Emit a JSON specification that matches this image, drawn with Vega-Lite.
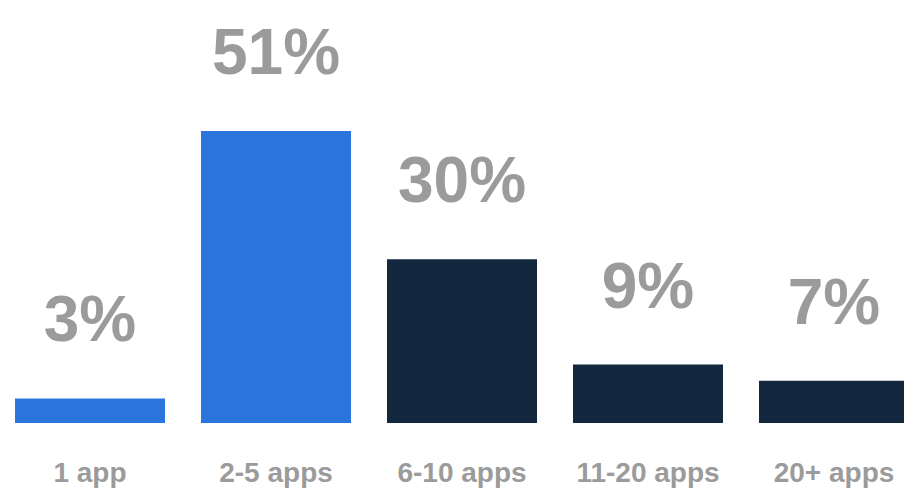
{
  "$schema": "https://vega.github.io/schema/vega-lite/v6.json",
  "width": 904,
  "height": 423,
  "autosize": "none",
  "padding": {"left": 0, "top": 0, "right": 0, "bottom": 68},
  "background": "white",
  "config": {"view": {"stroke": null}},
  "data": {
    "values": [
      {"cat": "1 app", "value": 4.3, "label": "3%", "group": "highlight"},
      {"cat": "2-5 apps", "value": 51, "label": "51%", "group": "highlight"},
      {"cat": "6-10 apps", "value": 28.6, "label": "30%", "group": "other"},
      {"cat": "11-20 apps", "value": 10.2, "label": "9%", "group": "other"},
      {"cat": "20+ apps", "value": 7.4, "label": "7%", "group": "other"}
    ]
  },
  "encoding": {
    "x": {
      "field": "cat",
      "type": "nominal",
      "sort": null,
      "scale": {"range": [-3, 927], "paddingInner": 0.1935, "paddingOuter": 0.0968},
      "axis": null
    }
  },
  "layer": [
    {
      "mark": {"type": "bar"},
      "encoding": {
        "y": {"field": "value", "type": "quantitative", "scale": {"domain": [0, 73.9], "nice": false}, "axis": null},
        "color": {
          "field": "group",
          "type": "nominal",
          "scale": {"domain": ["highlight", "other"], "range": ["#2a76dd", "#13283f"]},
          "legend": null
        }
      }
    },
    {
      "mark": {
        "type": "text",
        "baseline": "alphabetic",
        "align": "center",
        "dy": -57,
        "font": "Liberation Sans",
        "fontWeight": "bold",
        "fontSize": 64,
        "color": "#9b9b9b"
      },
      "encoding": {
        "y": {"field": "value", "type": "quantitative"},
        "text": {"field": "label"}
      }
    },
    {
      "mark": {
        "type": "text",
        "baseline": "alphabetic",
        "align": "center",
        "dy": 59,
        "font": "Liberation Sans",
        "fontWeight": "bold",
        "fontSize": 28,
        "color": "#9b9b9b"
      },
      "encoding": {
        "y": {"datum": 0, "type": "quantitative"},
        "text": {"field": "cat"}
      }
    }
  ]
}
